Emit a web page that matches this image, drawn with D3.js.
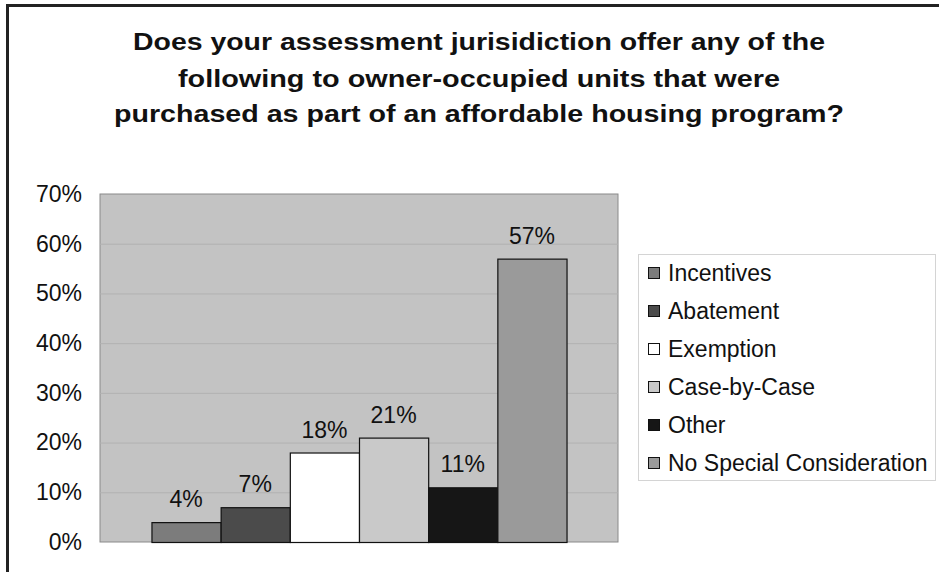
<!DOCTYPE html>
<html>
<head>
<meta charset="utf-8">
<script src="https://cdn.jsdelivr.net/npm/d3@7/dist/d3.min.js"></script>
<style>
  html, body { margin: 0; padding: 0; background: #fff; }
  svg { display: block; }
  text { font-family: "Liberation Sans", Arial, sans-serif; fill: #111; }
</style>
</head>
<body>
<svg id="chart" width="939" height="572"></svg>
<script>
// Survey responses, one bar per answer
const categories = ["Incentives", "Abatement", "Exemption", "Case-by-Case", "Other", "No Special Consideration"];
const values = [4, 7, 18, 21, 11, 57];
const barColors = ["#7c7c7c", "#4b4b4b", "#ffffff", "#c9c9c9", "#161616", "#9a9a9a"];
const yTicks = [0, 10, 20, 30, 40, 50, 60, 70];
const titleLines = [
  "Does your assessment jurisidiction offer any of the",
  "following to owner-occupied units that were",
  "purchased as part of an affordable housing program?"
];

const svg = d3.select("#chart");

// Outer frame (left and top edges)
svg.append("line").attr("x1", 7.5).attr("x2", 7.5).attr("y1", 5).attr("y2", 572)
  .attr("stroke", "#222").attr("stroke-width", 3);
svg.append("line").attr("x1", 6).attr("x2", 939).attr("y1", 5.5).attr("y2", 5.5)
  .attr("stroke", "#222").attr("stroke-width", 3);

// Title
const titleWidths = [692, 602, 730];
const titleBaselines = [49.5, 86.5, 122];
svg.append("g").selectAll("text").data(titleLines).join("text")
  .attr("x", 479)
  .attr("y", (d, i) => titleBaselines[i])
  .attr("text-anchor", "middle")
  .attr("font-size", 23)
  .attr("font-weight", "bold")
  .attr("textLength", (d, i) => titleWidths[i])
  .attr("lengthAdjust", "spacingAndGlyphs")
  .text(d => d);

// Plot area
const plot = { left: 100, right: 618, top: 194, bottom: 542 };

const y = d3.scaleLinear().domain([0, 70]).range([plot.bottom, plot.top]);

// One category holding six series, 150% gap around the cluster
const xGroup = d3.scaleBand().domain(["all"]).range([plot.left, plot.right])
  .paddingInner(0).paddingOuter(0.124);
const x = d3.scaleBand().domain(categories)
  .range([xGroup("all"), xGroup("all") + xGroup.bandwidth()]).padding(0);

svg.append("rect")
  .attr("x", plot.left).attr("y", plot.top)
  .attr("width", plot.right - plot.left).attr("height", plot.bottom - plot.top)
  .attr("fill", "#c3c3c3").attr("stroke", "#8a8a8a").attr("stroke-width", 1);

// Gridlines
svg.append("g").selectAll("line").data(yTicks.filter(t => t > 0 && t < 70)).join("line")
  .attr("x1", plot.left).attr("x2", plot.right)
  .attr("y1", d => y(d) + 0.5).attr("y2", d => y(d) + 0.5)
  .attr("stroke", "#b2b2b2").attr("stroke-width", 1);

// Y axis labels
const yAxis = d3.axisLeft(y).tickValues(yTicks).tickFormat(d => d + "%").tickSize(0).tickPadding(18);
const yg = svg.append("g").attr("transform", `translate(${plot.left},0)`).call(yAxis);
yg.select(".domain").remove();
yg.selectAll("text")
  .attr("font-size", 23)
  .attr("font-family", "Liberation Sans, Arial, sans-serif")
  .attr("fill", "#111");

// Bars
const data = categories.map((c, i) => ({ c, v: values[i], color: barColors[i] }));
svg.append("g").selectAll("rect").data(data).join("rect")
  .attr("x", d => x(d.c) + 0.5)
  .attr("y", d => y(d.v) + 0.5)
  .attr("width", x.bandwidth())
  .attr("height", d => y(0) - y(d.v))
  .attr("fill", d => d.color)
  .attr("stroke", "#111").attr("stroke-width", 1.2);

// Value labels
svg.append("g").selectAll("text").data(data).join("text")
  .attr("x", d => x(d.c) + x.bandwidth() / 2)
  .attr("y", d => y(d.v) - 15)
  .attr("text-anchor", "middle")
  .attr("font-size", 23)
  .text(d => d.v + "%");

// Legend
const legend = svg.append("g");
legend.append("rect")
  .attr("x", 638.5).attr("y", 254.5).attr("width", 297).attr("height", 226)
  .attr("fill", "#fff").attr("stroke", "#d4d4d4");
const rows = legend.selectAll("g.row").data(data).join("g")
  .attr("class", "row")
  .attr("transform", (d, i) => `translate(648, ${273 + i * 38})`);
rows.append("rect")
  .attr("x", 0.5).attr("y", -5.5).attr("width", 11).attr("height", 11)
  .attr("fill", d => d.color).attr("stroke", "#111").attr("stroke-width", 1);
rows.append("text")
  .attr("x", 20).attr("y", 0).attr("dy", "0.36em")
  .attr("font-size", 23)
  .text(d => d.c);
</script>
</body>
</html>
